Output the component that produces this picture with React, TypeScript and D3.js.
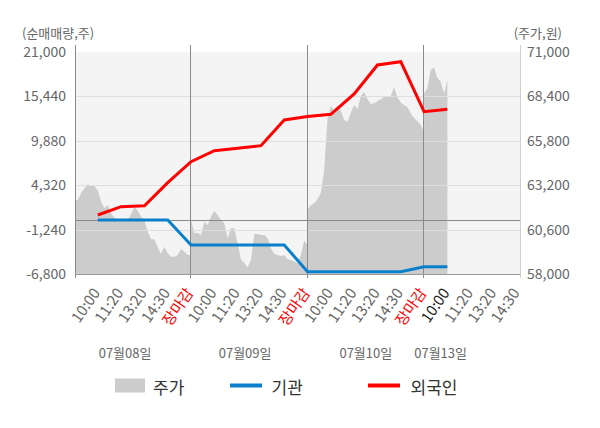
import { useEffect, useRef } from 'react'
import * as d3 from 'd3'

// x axis: one slot per tick label, 5 slots per trading day
const slotLabels = [
  '10:00', '11:20', '13:20', '14:30', '장마감',
  '10:00', '11:20', '13:20', '14:30', '장마감',
  '10:00', '11:20', '13:20', '14:30', '장마감',
  '10:00', '11:20', '13:20', '14:30',
]
const closeLabel = '장마감'
const currentSlot = 15 // 07월13일 10:00
const slotsPerDay = 5
const dayLabels = ['07월08일', '07월09일', '07월10일', '07월13일']
const dayLabelSlots = [2.17, 7.32, 12.5, 15.71]

// 주가 (right axis), sampled evenly through each day
const price0708 = [
  62330, 62330, 62760, 63020, 63270, 63150, 63150, 62880, 62230, 61850,
  62040, 61550, 61300, 61160, 61160, 61120, 61160, 61510, 61910, 61710,
  61360, 61120, 60480, 60030, 60030, 59560, 59170, 59600, 59210, 59010,
  59010, 59110, 59460, 59310, 59110, 59110,
]
const price0709 = [
  61160, 60380, 60420, 60280, 61060, 60870, 61360, 61710, 61460, 61160,
  60970, 60090, 60680, 60680, 59800, 58860, 58660, 58390, 58820, 60340,
  60340, 60280, 60280, 60090, 59500, 59170, 59110, 59050, 59110, 58860,
  58820, 58740, 58630, 59110, 59950, 59700,
]
const price0710 = [
  61750, 62040, 62140, 62370, 62760, 64090, 67120, 67840, 67560, 67860,
  67560, 67020, 66920, 67450, 67900, 67650, 68420, 68660, 68230, 67960,
  68000, 68130, 68230, 68380, 68420, 68420, 68930, 68350, 68030, 67900,
  67760, 67410, 67120, 66960, 66730, 66280,
]
const price0713 = [68580, 68870, 69950, 70100, 69460, 69260, 68580, 69360]
const pricesByDay = [price0708, price0709, price0710, price0713]
const samplesPerDay = 36

// 순매매량 (left axis), one value per label slot
const flowSlots = [1, 2, 3, 4, 5, 6, 7, 8, 9, 10, 11, 12, 13, 14, 15, 16]
const institution = [
  -40, -40, -40, -40, -3170, -3170, -3170, -3170, -3170,
  -6510, -6510, -6510, -6510, -6510, -5890, -5890,
]
const foreign = [
  590, 1630, 1750, 4650, 7260, 8640, 8940, 9270, 12490,
  12920, 13200, 15740, 19370, 19790, 13520, 13820,
]

const leftTicks = [-6800, -1240, 4320, 9880, 15440, 21000]
const rightTicks = [58000, 60600, 63200, 65800, 68400, 71000]

const FONT = '"Noto Sans CJK KR", "Noto Sans", sans-serif'
const BLUE = '#0a80cc'
const RED = '#ff0000'
const AREA = '#cccccc'

export default function App() {
  const svgRef = useRef<SVGSVGElement>(null)
  const width = 600
  const height = 428
  const plot = { left: 76, right: 520, top: 52, bottom: 274 }

  useEffect(() => {
    if (!svgRef.current) return
    const svg = d3.select(svgRef.current)
    svg.selectAll('*').remove()

    const fmt = d3.formatLocale({
      decimal: '.', thousands: ',', grouping: [3], currency: ['', ''], minus: '-',
    }).format(',')

    const x = d3.scaleLinear().domain([0, slotLabels.length]).range([74.5, 517.3])
    const yL = d3.scaleLinear().domain([-6800, 21000]).range([plot.bottom, plot.top])
    const yR = d3.scaleLinear().domain([58000, 71000]).range([plot.bottom, plot.top])

    svg.append('defs').append('clipPath').attr('id', 'plot-clip')
      .append('rect')
      .attr('x', plot.left).attr('y', plot.top)
      .attr('width', plot.right - plot.left).attr('height', plot.bottom - plot.top)

    // background
    svg.append('rect')
      .attr('x', plot.left).attr('y', plot.top)
      .attr('width', plot.right - plot.left).attr('height', plot.bottom - plot.top)
      .attr('fill', '#f4f4f4')

    // price area
    const pricePoints = pricesByDay.flatMap((arr, d) =>
      arr.map((p, i) => ({ k: d * slotsPerDay + (i * slotsPerDay) / (samplesPerDay - 1), p }))
    )
    const area = d3.area<{ k: number; p: number }>()
      .x(d => x(d.k))
      .y0(yR(58000))
      .y1(d => yR(d.p))
    svg.append('path')
      .datum(pricePoints)
      .attr('clip-path', 'url(#plot-clip)')
      .attr('fill', AREA)
      .attr('d', area)

    // gridlines over the area
    svg.append('g').selectAll('line')
      .data(leftTicks.slice(1, -1))
      .join('line')
      .attr('x1', plot.left).attr('x2', plot.right)
      .attr('y1', d => Math.round(yL(d)) + 0.5).attr('y2', d => Math.round(yL(d)) + 0.5)
      .attr('stroke', '#dedede')

    // zero line
    svg.append('line')
      .attr('x1', plot.left).attr('x2', plot.right)
      .attr('y1', Math.round(yL(0)) + 0.5).attr('y2', Math.round(yL(0)) + 0.5)
      .attr('stroke', '#8a8a8a')

    // day separators
    const daySplits = d3.range(1, dayLabels.length).map(d => d * slotsPerDay)
    svg.append('g').selectAll('line')
      .data(daySplits)
      .join('line')
      .attr('x1', d => Math.round(x(d)) - 0.5).attr('x2', d => Math.round(x(d)) - 0.5)
      .attr('y1', 45).attr('y2', plot.bottom + 4)
      .attr('stroke', '#8a8a8a')

    // axes lines
    svg.append('line')
      .attr('x1', plot.left - 0.5).attr('x2', plot.left - 0.5)
      .attr('y1', 45).attr('y2', plot.bottom + 4)
      .attr('stroke', '#8a8a8a')
    svg.append('line')
      .attr('x1', plot.right + 0.5).attr('x2', plot.right + 0.5)
      .attr('y1', 45).attr('y2', plot.bottom + 4)
      .attr('stroke', '#cfcfcf')
    svg.append('line')
      .attr('x1', plot.left).attr('x2', plot.right)
      .attr('y1', plot.bottom + 0.5).attr('y2', plot.bottom + 0.5)
      .attr('stroke', '#9a9a9a')

    // flow lines
    const line = d3.line<number>()
      .x((_, i) => x(flowSlots[i]))
      .y(d => yL(d))
    svg.append('path')
      .datum(institution)
      .attr('fill', 'none').attr('stroke', BLUE).attr('stroke-width', 3)
      .attr('d', line)
    svg.append('path')
      .datum(foreign)
      .attr('fill', 'none').attr('stroke', RED).attr('stroke-width', 3)
      .attr('d', line)

    // left ticks
    svg.append('g').selectAll('text')
      .data(leftTicks)
      .join('text')
      .attr('x', 66).attr('y', d => yL(d)).attr('dy', '0.35em')
      .attr('text-anchor', 'end')
      .attr('font-family', FONT).attr('font-size', 14).attr('fill', '#666')
      .text(d => fmt(d))
    // right ticks
    svg.append('g').selectAll('text')
      .data(rightTicks)
      .join('text')
      .attr('x', 527).attr('y', d => yR(d)).attr('dy', '0.35em')
      .attr('text-anchor', 'start')
      .attr('font-family', FONT).attr('font-size', 14).attr('fill', '#666')
      .text(d => fmt(d))

    // axis titles
    svg.append('text')
      .attr('x', 22).attr('y', 38)
      .attr('font-family', FONT).attr('font-size', 13).attr('fill', '#666')
      .text('(순매매량,주)')
    svg.append('text')
      .attr('x', 562).attr('y', 38).attr('text-anchor', 'end')
      .attr('font-family', FONT).attr('font-size', 13).attr('fill', '#666')
      .text('(주가,원)')

    // slot labels
    svg.append('g').selectAll('text')
      .data(slotLabels)
      .join('text')
      .attr('transform', (_, i) => `translate(${x(i + 1) + 3},293) rotate(-55)`)
      .attr('text-anchor', 'end')
      .attr('font-family', FONT).attr('font-size', 15)
      .attr('fill', (d, i) => (d === closeLabel ? RED : i === currentSlot ? '#222' : '#666'))
      .text(d => d)

    // day labels
    svg.append('g').selectAll('text')
      .data(dayLabels)
      .join('text')
      .attr('x', (_, i) => x(dayLabelSlots[i])).attr('y', 358)
      .attr('text-anchor', 'middle')
      .attr('font-family', FONT).attr('font-size', 13).attr('fill', '#666')
      .text(d => d)

    // legend
    const legend = svg.append('g').attr('font-family', FONT).attr('font-size', 17).attr('fill', '#333')
    legend.append('rect').attr('x', 115).attr('y', 378.5).attr('width', 30).attr('height', 14).attr('fill', AREA)
    legend.append('text').attr('x', 153).attr('y', 386).attr('dominant-baseline', 'central').text('주가')
    legend.append('line').attr('x1', 230).attr('x2', 262).attr('y1', 385.5).attr('y2', 385.5)
      .attr('stroke', BLUE).attr('stroke-width', 4)
    legend.append('text').attr('x', 271.5).attr('y', 386).attr('dominant-baseline', 'central').text('기관')
    legend.append('line').attr('x1', 368).attr('x2', 400).attr('y1', 385.5).attr('y2', 385.5)
      .attr('stroke', RED).attr('stroke-width', 4)
    legend.append('text').attr('x', 410.5).attr('y', 386).attr('dominant-baseline', 'central').text('외국인')
  }, [])

  return (
    <svg
      ref={svgRef}
      width={width}
      height={height}
      style={{ position: 'absolute', left: 0, top: 0, background: '#fff' }}
    />
  )
}
